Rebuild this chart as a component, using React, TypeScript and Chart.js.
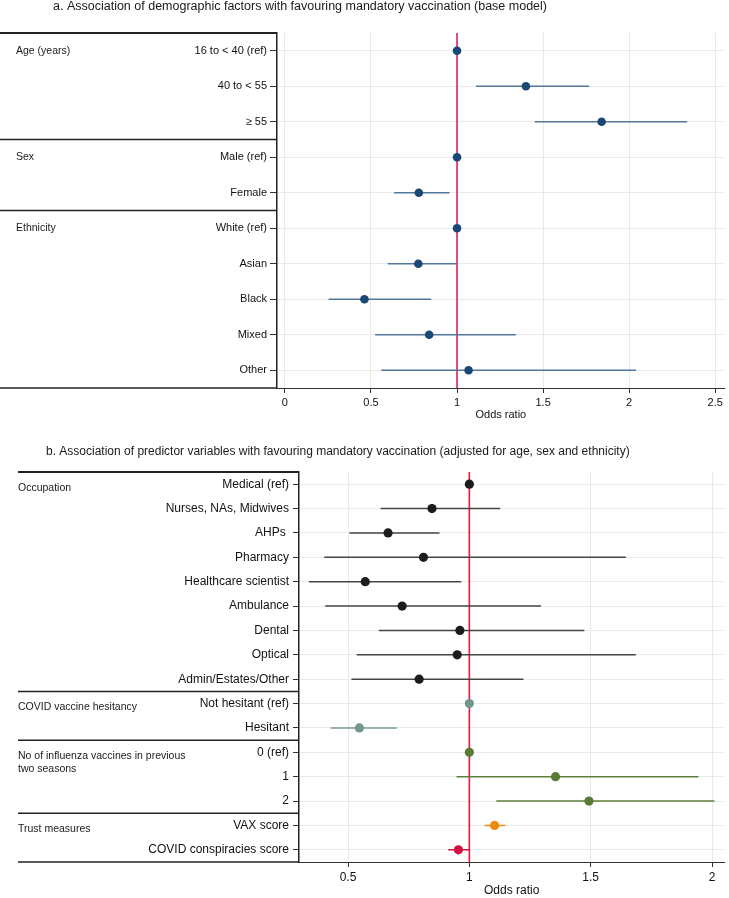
import React, { useEffect, useRef } from 'react';
import { Chart, registerables } from 'chart.js';

Chart.register(...registerables);

const FONT = '"Liberation Sans", Arial, Helvetica, sans-serif';

// ---------------- Panel a data ----------------
const titleA = 'a. Association of demographic factors with favouring mandatory vaccination (base model)';
const categoriesA = ['16 to < 40 (ref)', '40 to < 55', '≥ 55', 'Male (ref)', 'Female', 'White (ref)', 'Asian', 'Black', 'Mixed', 'Other'];
const oddsA = [1, 1.4, 1.84, 1, 0.778, 1, 0.775, 0.462, 0.838, 1.067];
const lowerA: (number | null)[] = [null, 1.11, 1.451, null, 0.634, null, 0.597, 0.254, 0.524, 0.559];
const upperA: (number | null)[] = [null, 1.767, 2.337, null, 0.956, null, 0.998, 0.85, 1.341, 2.04];
const groupNamesA = [['Age (years)'], ['Sex'], ['Ethnicity']];
const groupStartsA = [0, 3, 5];
const xTicksA = [0, 0.5, 1, 1.5, 2, 2.5];

// ---------------- Panel b data ----------------
const titleB = 'b. Association of predictor variables with favouring mandatory vaccination (adjusted for age, sex and ethnicity)';
const categoriesB = [
  'Medical (ref)', 'Nurses, NAs, Midwives', 'AHPs ', 'Pharmacy', 'Healthcare scientist', 'Ambulance', 'Dental', 'Optical', 'Admin/Estates/Other',
  'Not hesitant (ref)', 'Hesitant',
  '0 (ref)', '1', '2',
  'VAX score', 'COVID conspiracies score',
];
const oddsB = [1, 0.846, 0.665, 0.811, 0.571, 0.723, 0.961, 0.95, 0.793, 1, 0.547, 1, 1.355, 1.493, 1.104, 0.955];
const lowerB: (number | null)[] = [null, 0.634, 0.506, 0.402, 0.339, 0.406, 0.627, 0.536, 0.514, null, 0.428, null, 0.947, 1.111, 1.063, 0.913];
const upperB: (number | null)[] = [null, 1.127, 0.877, 1.645, 0.967, 1.295, 1.474, 1.686, 1.223, null, 0.701, null, 1.944, 2.01, 1.148, 1.0];
const groupNamesB = [['Occupation'], ['COVID vaccine hesitancy'], ['No of influenza vaccines in previous', 'two seasons'], ['Trust measures']];
const groupStartsB = [0, 9, 11, 14];
const xTicksB = [0.5, 1, 1.5, 2];
const refValue = 1;

// ---------------- styles ----------------
const pointColorsA = categoriesA.map(() => '#1b4775');
const ciColorsA = categoriesA.map(() => '#53779b');
const styleGroupB = ['occ', 'occ', 'occ', 'occ', 'occ', 'occ', 'occ', 'occ', 'occ', 'hes', 'hes', 'flu', 'flu', 'flu', 'vax', 'cov'];
const pointPalette: Record<string, string> = { occ: '#1c1c1c', hes: '#72978d', flu: '#5a7b35', vax: '#ec8b10', cov: '#d41140' };
const ciPalette: Record<string, string> = { occ: '#454545', hes: '#7a9d93', flu: '#5f8038', vax: '#ec8b10', cov: '#d41140' };
const pointColorsB = styleGroupB.map((g) => pointPalette[g]);
const ciColorsB = styleGroupB.map((g) => ciPalette[g]);

type Panel = {
  title: string; titleX: number; titleY: number; titleSize: number;
  categories: string[]; odds: number[]; lower: (number | null)[]; upper: (number | null)[];
  groupNames: string[][]; groupStarts: number[];
  xTicks: number[]; xMin: number; xMax: number;
  pointColors: string[]; ciColors: string[];
  refColor: string; refWidth: number;
  height: number; padTop: number; padBottom: number; padRight: number; axisWidth: number; xAxisHeight: number;
  labelSize: number; tickSize: number; groupSize: number;
  tableLeft: number; groupX: number; groupDy: number; groupLineH: number;
  pointRadius: number; ciWidth: number; yTickLength: number; yTickPad: number;
};

const panelA: Panel = {
  title: titleA, titleX: 53, titleY: 7, titleSize: 12.5,
  categories: categoriesA, odds: oddsA, lower: lowerA, upper: upperA,
  groupNames: groupNamesA, groupStarts: groupStartsA,
  xTicks: xTicksA, xMin: -0.046, xMax: 2.555,
  pointColors: pointColorsA, ciColors: ciColorsA,
  refColor: '#d8507a', refWidth: 2,
  height: 440, padTop: 33, padBottom: 18, padRight: 2, axisWidth: 277, xAxisHeight: 34,
  labelSize: 11, tickSize: 11, groupSize: 10.5,
  tableLeft: 0, groupX: 16, groupDy: 0, groupLineH: 12.4,
  pointRadius: 4.3, ciWidth: 1.6, yTickLength: 7, yTickPad: 3,
};

const panelB: Panel = {
  title: titleB, titleX: 46, titleY: 12, titleSize: 12,
  categories: categoriesB, odds: oddsB, lower: lowerB, upper: upperB,
  groupNames: groupNamesB, groupStarts: groupStartsB,
  xTicks: xTicksB, xMin: 0.298, xMax: 2.051,
  pointColors: pointColorsB, ciColors: ciColorsB,
  refColor: '#e2173f', refWidth: 1.6,
  height: 458, padTop: 32, padBottom: 0, padRight: 2, axisWidth: 299, xAxisHeight: 36,
  labelSize: 12, tickSize: 12, groupSize: 10.5,
  tableLeft: 18, groupX: 18, groupDy: 4, groupLineH: 12.4,
  pointRadius: 4.6, ciWidth: 1.5, yTickLength: 6, yTickPad: 4,
};

function makePlugin(p: Panel) {
  return {
    id: 'forestTable',
    beforeDatasetsDraw(chart: any) {
      const { ctx, chartArea, scales } = chart;
      const x = scales.x.getPixelForValue(refValue);
      ctx.save();
      ctx.strokeStyle = p.refColor;
      ctx.lineWidth = p.refWidth;
      ctx.beginPath();
      ctx.moveTo(x, chartArea.top);
      ctx.lineTo(x, chartArea.bottom);
      ctx.stroke();
      ctx.restore();
    },
    afterDraw(chart: any) {
      const { ctx, chartArea, scales } = chart;
      const y = scales.y;
      ctx.save();
      ctx.fillStyle = '#1a1a1a';
      ctx.textBaseline = 'middle';
      ctx.textAlign = 'left';
      ctx.font = `${p.titleSize}px ${FONT}`;
      ctx.fillText(p.title, p.titleX, p.titleY);

      ctx.strokeStyle = '#222';
      const rules = [
        chartArea.top,
        ...p.groupStarts.slice(1).map((s) => (y.getPixelForValue(s - 1) + y.getPixelForValue(s)) / 2),
        chartArea.bottom,
      ];
      rules.forEach((ry: number, k: number) => {
        ctx.lineWidth = k === 0 ? 2 : 1.5;
        ctx.beginPath();
        ctx.moveTo(p.tableLeft, ry);
        ctx.lineTo(chartArea.left, ry);
        ctx.stroke();
      });

      ctx.font = `${p.groupSize}px ${FONT}`;
      ctx.fillStyle = '#1a1a1a';
      p.groupNames.forEach((lines, g) => {
        const gy = y.getPixelForValue(p.groupStarts[g]) + p.groupDy;
        lines.forEach((t, k) => ctx.fillText(t, p.groupX, gy + k * p.groupLineH));
      });
      ctx.restore();
    },
  };
}

function ForestPanel({ p }: { p: Panel }) {
  const ref = useRef<HTMLCanvasElement>(null);
  useEffect(() => {
    const canvas = ref.current;
    if (!canvas) return;
    const ciSets = p.categories
      .map((c, i) => ({ c, i }))
      .filter(({ i }) => p.lower[i] !== null && p.upper[i] !== null)
      .map(({ c, i }) => ({
        data: [{ x: p.lower[i] as number, y: c }, { x: p.upper[i] as number, y: c }],
        showLine: true,
        borderColor: p.ciColors[i],
        borderWidth: p.ciWidth,
        pointRadius: 0,
        pointHoverRadius: 0,
      }));
    const pointSet = {
      data: p.categories.map((c, i) => ({ x: p.odds[i], y: c })),
      showLine: false,
      pointRadius: p.pointRadius,
      pointBackgroundColor: p.pointColors,
      pointBorderWidth: 0,
      pointBorderColor: p.pointColors,
    };
    const tickFont = { family: FONT, size: p.tickSize };
    const chart = new Chart(canvas, {
      type: 'scatter',
      data: { datasets: [pointSet, ...ciSets] as any },
      options: {
        animation: false,
        responsive: false,
        events: [],
        layout: { padding: { top: p.padTop, bottom: p.padBottom, right: p.padRight, left: 0 } },
        plugins: { legend: { display: false }, tooltip: { enabled: false }, title: { display: false } },
        scales: {
          x: {
            type: 'linear',
            min: p.xMin,
            max: p.xMax,
            afterBuildTicks: (s: any) => { s.ticks = p.xTicks.map((v) => ({ value: v })); },
            afterFit: (s: any) => { s.height = p.xAxisHeight; },
            grid: { color: '#e9e9e9', lineWidth: 1, tickColor: '#333', tickLength: 5 },
            border: { color: '#333', width: 1 },
            ticks: { color: '#111', font: tickFont, padding: 3, maxRotation: 0, autoSkip: false, callback: (v: any) => String(v) },
            title: { display: true, text: 'Odds ratio', color: '#111', font: tickFont, padding: { top: 0, bottom: 0 } },
          },
          y: {
            type: 'category',
            labels: p.categories,
            offset: true,
            afterFit: (s: any) => { s.width = p.axisWidth; },
            grid: { offset: false, color: '#ebebeb', lineWidth: 1, tickColor: '#333', tickLength: p.yTickLength },
            border: { color: '#222', width: 1.5 },
            ticks: { color: '#111', font: { family: FONT, size: p.labelSize }, padding: p.yTickPad, autoSkip: false },
          },
        } as any,
      },
      plugins: [makePlugin(p)],
    } as any);
    return () => chart.destroy();
  }, [p]);
  return <canvas ref={ref} width={729} height={p.height} style={{ display: 'block', width: 729, height: p.height }} />;
}

export default function App() {
  useEffect(() => {
    document.body.style.margin = '0';
  }, []);
  return (
    <div style={{ position: 'absolute', left: 0, top: 0, width: 729, height: 898, background: '#fff' }}>
      <ForestPanel p={panelA} />
      <ForestPanel p={panelB} />
    </div>
  );
}
